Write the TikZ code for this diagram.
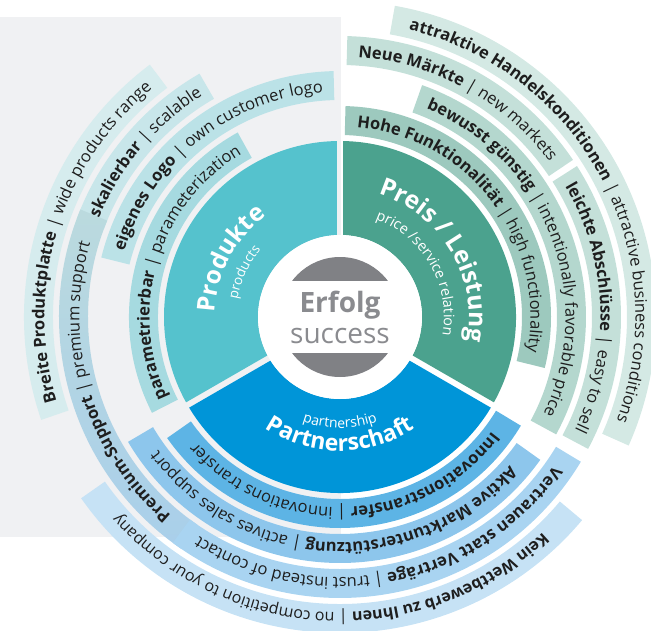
\documentclass[tikz,border=0pt]{standalone}
\usepackage{fontspec}
\setmainfont{Open Sans}
\usetikzlibrary{decorations.text}
\definecolor{bggray}{HTML}{F0F1F3}
\definecolor{prodc}{HTML}{55C2CD}
\definecolor{preisc}{HTML}{4BA28E}
\definecolor{partc}{HTML}{0095D8}
\definecolor{circgray}{HTML}{808185}
\definecolor{erfgray}{HTML}{8A8B8F}
\definecolor{txt}{HTML}{1E1E1E}
\definecolor{ga}{HTML}{9DC9BE}
\definecolor{gb}{HTML}{B4D7CE}
\definecolor{gc}{HTML}{C4E0D9}
\definecolor{gd}{HTML}{D4E9E4}
\definecolor{ta}{HTML}{A6DAE0}
\definecolor{tb}{HTML}{BBE2E7}
\definecolor{tc}{HTML}{C8E6EA}
\definecolor{td}{HTML}{D6ECEE}
\definecolor{ptop}{HTML}{BBDADE}
\definecolor{pbot}{HTML}{A9CFEA}
\definecolor{ba}{HTML}{5DB4E5}
\definecolor{bb}{HTML}{8DC6EC}
\definecolor{bc}{HTML}{A9D4F1}
\definecolor{bd}{HTML}{C6E2F5}
\newcommand\bandsize{16.5}
\newcommand\bfmt{\fontsize{\bandsize}{20}\selectfont\bfseries\color{txt}}
\newcommand\rfmt{\fontsize{\bandsize}{20}\selectfont\mdseries\color{txt}}
\newcommand\bigfmt{\fontsize{24.5}{28}\selectfont\bfseries\color{white}}
\newcommand\smallfmt{\fontsize{13.5}{16}\selectfont\mdseries\color{white}}
\newcommand\band[6]{%
  \pgfmathsetmacro\rin{147+35*#3}%
  \pgfmathsetmacro\rout{\rin+29}%
  \pgfmathsetmacro\rb{\rin+8.5}%
  \path[#4] (#1:\rin) arc[start angle=#1,end angle=#2,radius=\rin] -- (#2:\rout) arc[start angle=#2,end angle=#1,radius=\rout] -- cycle;
  \path[decorate,decoration={text along path,text align=center,text={|\bfmt|#5 |\rfmt|{\textbar} #6}}] (#1:\rb) arc[start angle=#1,end angle=#2,radius=\rb];
}
\tikzset{
  arctext/.style={decorate,decoration={text along path,text align=center,text={#1}}},
  centertext/.style={anchor=base,text=erfgray,font=\fontsize{28}{32}\selectfont,inner sep=0pt}
}
\begin{document}
\begin{tikzpicture}[x=1pt,y=1pt]
\useasboundingbox (-340,-313) rectangle (311,317);
\fill[bggray] (-340,-220) rectangle (1,300);
% inner sectors
\fill[prodc] (92.1:82) -- (91:176) arc[start angle=91,end angle=209,radius=176] -- (207.9:82) arc[start angle=207.9,end angle=92.1,radius=82] -- cycle;
\fill[preisc] (-27.9:82) -- (-29:176) arc[start angle=-29,end angle=89,radius=176] -- (87.9:82) arc[start angle=87.9,end angle=-27.9,radius=82] -- cycle;
\fill[partc] (212.1:82) -- (211:176) arc[start angle=211,end angle=329,radius=176] -- (327.9:82) arc[start angle=327.9,end angle=212.1,radius=82] -- cycle;
\fill[white] (0,0) circle[radius=82];
\fill[circgray] (0,0) circle[radius=60];
\fill[white] (-61,-36) rectangle (61,36);
\node[centertext,font=\fontsize{28}{32}\selectfont\bfseries] (erfolg) at (0,5) {Erfolg};
\node[centertext] (success) at (0,-26) {success};
% sector labels
\path[arctext={|\bigfmt|Produkte}] (192:125) arc[start angle=192,end angle=112,radius=125];
\path[arctext={|\smallfmt|products}] (190:104) arc[start angle=190,end angle=120,radius=104];
\path[arctext={|\bigfmt|Preis / Leistung}] (81:129) arc[start angle=81,end angle=-19,radius=129];
\path[arctext={|\fontsize{14.5}{17}\selectfont\color{white}|price /service relation}] (80:104) arc[start angle=80,end angle=-20,radius=104];
\path[arctext={|\fontsize{14}{16}\selectfont\color{white}|partnership}] (230:111) arc[start angle=230,end angle=310,radius=111];
\path[arctext={|\fontsize{23}{26}\selectfont\bfseries\color{white}|Partnerschaft}] (220:134) arc[start angle=220,end angle=320,radius=134];
% right bands
\band{88.5}{-14}{1}{fill=ga}{Hohe Funktionalität}{high functionality}
\band{70.5}{-28.5}{2}{fill=gb}{bewusst günstig}{intentionally favorable price}
\band{88.5}{34}{3}{fill=gc}{Neue Märkte}{new markets}
\band{32.5}{-28}{3}{fill=gc}{leichte Abschlüsse}{easy to sell}
\band{80}{-24}{4}{fill=gd}{attraktive Handelskonditionen}{attractive business conditions}
% left bands
\band{207}{119}{1}{fill=ta}{parametrierbar}{parameterization}
\band{166}{91.5}{2}{fill=tb}{eigenes Logo}{own customer logo}
\band{159.5}{120}{3}{fill=tc}{skalierbar}{scalable}
\band{235.5}{157.5}{3}{top color=ptop,bottom color=pbot}{Premium-Support}{premium support}
\band{199}{127}{4}{fill=td}{Breite Produktplatte}{wide products range}
% bottom bands
\band{-31}{-145}{1}{fill=ba}{Innovationstransfer}{innovations transfer}
\band{-35.5}{-149.5}{2}{fill=bb}{Aktive Marktunterstützung}{actives sales support}
\band{-31}{-126.5}{3}{fill=bc}{Vertrauen statt Verträge}{trust instead of contact}
\renewcommand\bandsize{16}
\band{-40}{-145}{4}{fill=bd}{Kein Wettbewerb zu Ihnen}{no competition to your company}
\end{tikzpicture}
\end{document}
